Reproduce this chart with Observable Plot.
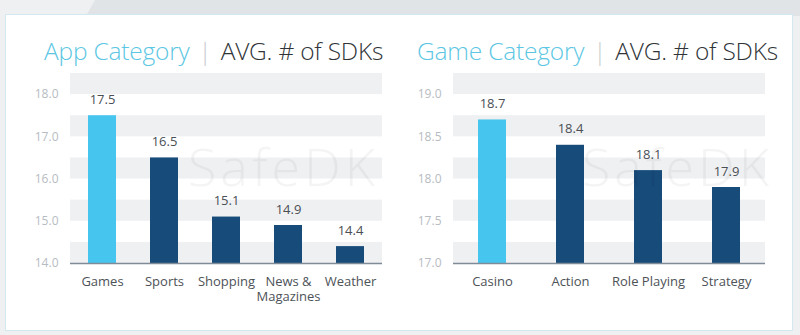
<!DOCTYPE html>
<html><head><meta charset="utf-8">
<script src="https://cdn.jsdelivr.net/npm/d3@7"></script>
<script src="https://cdn.jsdelivr.net/npm/@observablehq/plot@0.6"></script>
<style>
html,body{margin:0;padding:0}
body{width:800px;height:335px;overflow:hidden;background:#eef0f2;font-family:"Open Sans",sans-serif;position:relative}
#topshape{position:absolute;left:0;top:0;width:800px;height:16px;background:#e1e4e7;clip-path:polygon(95px 0,800px 0,800px 16px,86px 16px)}
#panel{position:absolute;left:5px;top:14px;width:786px;height:315px;background:#fff;border:1.5px solid #d3e8f0}
.title{position:absolute;top:35px;font-size:24.5px;line-height:32px;font-weight:300;white-space:nowrap;letter-spacing:-0.2px}
.title .a{color:#5cc6e3}
.title .s{color:#c9cdd1;margin:0 9px}
.title .b{color:#2f3438}
.chart{position:absolute;top:60px}
.wm{position:absolute;top:144px;font-size:52px;line-height:44px;font-weight:300;color:#000;opacity:0.04;pointer-events:none;letter-spacing:4px}
</style></head><body>
<div id="topshape"></div>
<div id="panel"></div>
<div class="title" style="left:44px"><span class="a">App Category</span><span class="s">|</span><span class="b">AVG. # of SDKs</span></div>
<div class="title" style="left:417px"><span class="a">Game Category</span><span class="s">|</span><span class="b">AVG. # of SDKs</span></div>
<div id="c1" class="chart" style="left:0"></div>
<div id="c2" class="chart" style="left:400px"></div>
<div class="wm" style="left:188px">SafeDK</div>
<div class="wm" style="left:582px">SafeDK</div>
<script>
const appCategories = ["Games", "Sports", "Shopping", "News &\nMagazines", "Weather"];
const appValues = [17.5, 16.5, 15.1, 14.9, 14.4];
const appTicks = [14, 15, 16, 17, 18];

const gameCategories = ["Casino", "Action", "Role Playing", "Strategy"];
const gameValues = [18.7, 18.4, 18.1, 17.9];
const gameTicks = [17, 17.5, 18, 18.5, 19];

const highlighted = ["Games", "Casino"];

const lightBlue = "#46c5ee";
const darkBlue = "#174b7a";

function makeChart(categories, values, ticks, cfg) {
  const data = categories.map((c, i) => ({cat: c, value: values[i]}));
  const step = ticks[1] - ticks[0];
  const lo = ticks[0];
  const hi = ticks[ticks.length - 1] + step / 2;
  const stripes = ticks.map(t => ({y1: t, y2: t + step / 2}));
  return Plot.plot({
    width: 400,
    height: 260,
    marginTop: 13,
    marginBottom: 57,
    marginLeft: cfg.marginLeft,
    marginRight: cfg.marginRight,
    style: {fontFamily: "'Open Sans', sans-serif", background: "transparent", overflow: "visible"},
    x: {domain: categories, paddingInner: cfg.paddingInner, paddingOuter: cfg.paddingOuter, axis: null},
    y: {domain: [lo, hi], axis: null},
    marks: [
      Plot.rect(stripes, {y1: "y1", y2: "y2", fill: "#eff0f2"}),
      Plot.barY(data, {x: "cat", y1: () => lo, y2: "value", fill: d => highlighted.includes(d.cat) ? lightBlue : darkBlue}),
      Plot.ruleY([lo], {stroke: "#7f8b96", strokeWidth: 1.5}),
      Plot.text(data, {x: "cat", y: "value", text: d => d.value.toFixed(1), dy: -16, fill: "#4a4f55", fontSize: 13}),
      Plot.text(data, {x: "cat", text: "cat", frameAnchor: "bottom", lineAnchor: "top", dy: 11, fill: "#4d5257", fontSize: 13, lineHeight: 1.2}),
      Plot.text(ticks, {y: d => d, text: d => d.toFixed(1), frameAnchor: "left", textAnchor: "end", dx: -cfg.tickPad, fill: "#b7bcc2", fontSize: 12})
    ]
  });
}

document.getElementById("c1").appendChild(makeChart(appCategories, appValues, appTicks,
  {marginLeft: 70, marginRight: 18, paddingInner: 0.55, paddingOuter: 0.275, tickPad: 12}));
document.getElementById("c2").appendChild(makeChart(gameCategories, gameValues, gameTicks,
  {marginLeft: 53, marginRight: 35, paddingInner: 0.64, paddingOuter: 0.32, tickPad: 12}));
</script>
</body></html>
